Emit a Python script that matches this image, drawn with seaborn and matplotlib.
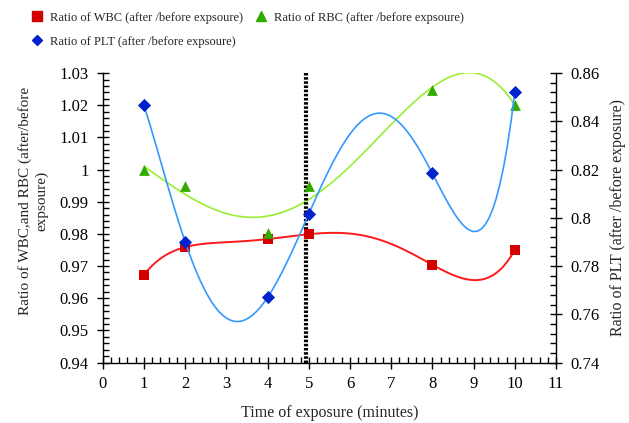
import numpy as np
import pandas as pd
import matplotlib
matplotlib.use("Agg")
import matplotlib.pyplot as plt
from matplotlib.lines import Line2D
from matplotlib.ticker import MultipleLocator, AutoMinorLocator, FuncFormatter
import seaborn as sns

# Exposure times (minutes) and after/before ratios
time_min = [1, 2, 4, 5, 8, 10]
wbc_ratio = [0.9673, 0.9759, 0.9784, 0.9799, 0.9704, 0.9750]
rbc_ratio = [1.0000, 0.9950, 0.9802, 0.9950, 1.0249, 1.0202]
plt_ratio = [0.8467, 0.7901, 0.7670, 0.8016, 0.8184, 0.8522]
exposure_marker = 4.93

wbc_label = "Ratio of WBC (after /before expsoure)"
rbc_label = "Ratio of RBC (after /before expsoure)"
plt_label = "Ratio of PLT (after /before expsoure)"

df = pd.DataFrame({"time": time_min, "wbc": wbc_ratio, "rbc": rbc_ratio, "plt": plt_ratio})

sns.set_style("white")
plt.rcParams["font.family"] = ["Liberation Serif", "DejaVu Serif"]
plt.rcParams["font.size"] = 11

fig = plt.figure(figsize=(6.29, 4.23), dpi=100)
ax = fig.add_axes([0.1633, 0.1430, 0.7207, 0.6840])
ax2 = ax.twinx()

# Polynomial trend curves
sns.regplot(data=df, x="time", y="wbc", order=5, ci=None, scatter=False, ax=ax,
            line_kws=dict(color="#ff1a1a", lw=1.4))
sns.regplot(data=df, x="time", y="rbc", order=4, ci=None, scatter=False, ax=ax,
            line_kws=dict(color="#99ee33", lw=1.2))
sns.regplot(data=df, x="time", y="plt", order=5, ci=None, scatter=False, ax=ax2,
            line_kws=dict(color="#3399ff", lw=1.2))

# Data points
sns.scatterplot(data=df, x="time", y="wbc", marker="s", s=60, color="#d40000",
                edgecolor="#d40000", linewidth=0, ax=ax, zorder=5)
sns.scatterplot(data=df, x="time", y="rbc", marker="^", s=60, color="#33aa00",
                edgecolor="#33aa00", linewidth=0, ax=ax, zorder=5)
sns.scatterplot(data=df, x="time", y="plt", marker="D", s=45, color="#0022cc",
                edgecolor="#0022cc", linewidth=0, ax=ax2, zorder=5)

ax.axvline(exposure_marker, color="black", lw=3, linestyle=(0, (0.6, 0.4)), zorder=4)

# Axes limits and ticks
ax.set_xlim(0, 11)
ax.set_ylim(0.94, 1.03)
ax2.set_ylim(0.74, 0.86)
ax.xaxis.set_major_locator(MultipleLocator(1))
ax.xaxis.set_minor_locator(AutoMinorLocator(5))
ax.yaxis.set_major_locator(MultipleLocator(0.01))
ax.yaxis.set_minor_locator(AutoMinorLocator(5))
ax2.yaxis.set_major_locator(MultipleLocator(0.02))
ax2.yaxis.set_minor_locator(AutoMinorLocator(5))
fmt = FuncFormatter(lambda v, p: "%g" % round(v, 4))
ax.yaxis.set_major_formatter(fmt)
ax2.yaxis.set_major_formatter(fmt)

for a in (ax, ax2):
    a.spines["top"].set_visible(False)
    for s in a.spines.values():
        s.set_color("black")
        s.set_linewidth(1.0)
    a.tick_params(which="major", direction="inout", length=8, width=1, colors="black",
                  labelsize=12, labelcolor="black")
    a.tick_params(which="minor", direction="in", length=4, width=1, colors="black")
ax.tick_params(axis="both", which="both", bottom=True, left=True)
ax.tick_params(axis="y", pad=6)
ax2.tick_params(axis="y", pad=6)
ax.tick_params(axis="x", pad=6)
ax.spines["right"].set_visible(False)
ax2.spines["left"].set_visible(False)
ax2.spines["bottom"].set_visible(False)

ax.set_xlabel("Time of exposure (minutes)", fontsize=11.5, labelpad=9)
ax.set_ylabel("Ratio of WBC,and RBC (after/before\nexpsoure)", fontsize=11,
              linespacing=1.3)
ax.yaxis.set_label_coords(-0.120, 0.557)
ax2.set_ylabel("Ratio of PLT (after /before exposure)", fontsize=11.5, labelpad=8)

handles = {
    "wbc": Line2D([], [], marker="s", color="#d40000", linestyle="none", markersize=7),
    "rbc": Line2D([], [], marker="^", color="#33aa00", linestyle="none", markersize=7),
    "plt": Line2D([], [], marker="D", color="#0022cc", linestyle="none", markersize=5),
}
# Column-major fill: WBC / PLT in first column, RBC in second
fig.legend([handles["wbc"], handles["plt"], handles["rbc"]],
           [wbc_label, plt_label, rbc_label], ncol=2, loc="upper left",
           bbox_to_anchor=(0.053, 0.972), frameon=False, fontsize=9,
           borderpad=0, borderaxespad=0,
           handlelength=0.6, handletextpad=0.75, columnspacing=1.1, labelspacing=0.95)

fig.savefig("out.png", dpi=100)
